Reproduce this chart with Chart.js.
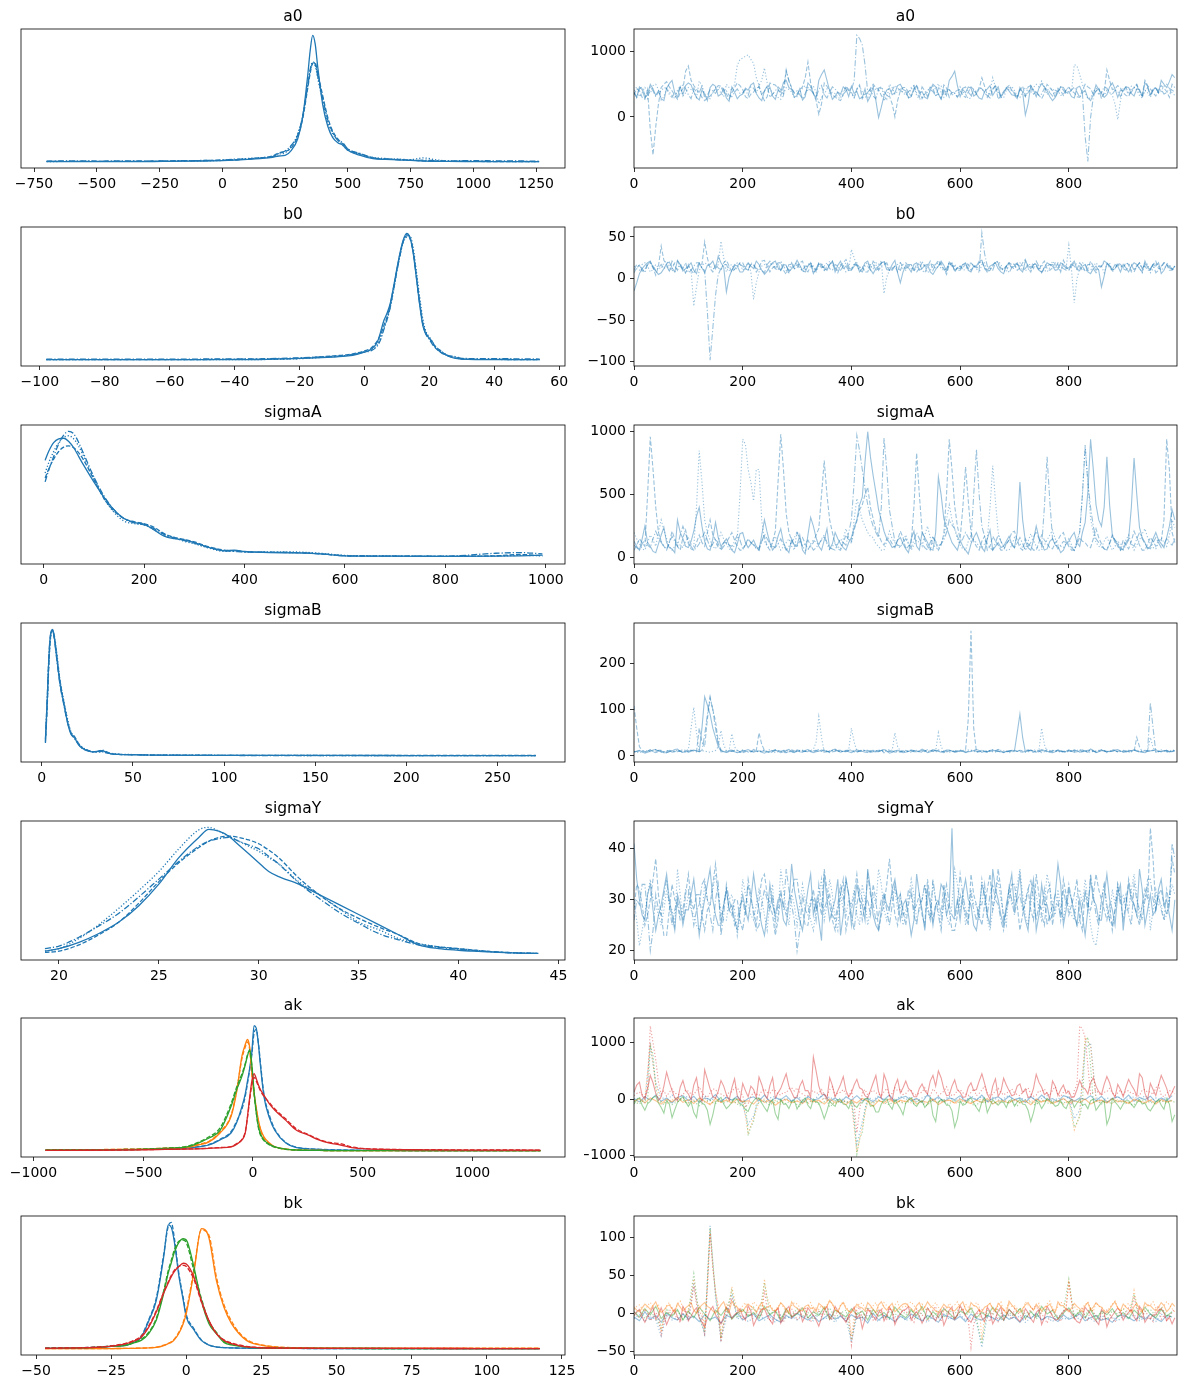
<!DOCTYPE html>
<html>
<head>
<meta charset="utf-8">
<script src="https://cdn.jsdelivr.net/npm/chart.js@4.4.1/dist/chart.umd.min.js"></script>
<style>
  body { margin: 0; background: #fff; width: 1187px; height: 1389px; position: relative; overflow: hidden; }
  canvas { position: absolute; }
</style>
</head>
<body>
<script>
// Trace arrays are thinned draws over 0..999 (200 values = every 5th draw, 100 values = every 10th)

// ---- a0 ----
const a0Grid = [-700,-600,-500,-400,-300,-200,-100,0,50,100,150,200,225,250,275,300,320,340,350,360,370,380,400,420,440,460,480,500,550,600,650,700,750,800,850,900,1000,1100,1262];
const a0Kde1 = [0,0,0,0,0,0.3,0.5,0.8,1.2,1.8,2.5,3.5,4.5,5,9,18,35,68,88,100,93,75,45,28,19,15,13,9,5,2.5,1.8,1.5,1,0.5,0.3,0.2,0.1,0,0];
const a0Kde2 = [0.2,0.3,0.3,0.3,0.4,0.5,0.8,1.2,1.5,2.2,3,4.5,7,8,11,20,34,58,70,78,78,70,52,35,24,18,14,10,6,3,2,1.8,1.2,0.6,0.5,0.3,0.2,0.1,0];
const a0Kde3 = [0.1,0.2,0.2,0.3,0.3,0.4,0.6,1,1.5,2.5,3.2,4,6,7,12,22,36,60,72,77,76,66,48,31,22,17,13,9,6,3.5,2.5,2,1.6,3,1.5,0.6,0.3,0.2,0.1];
const a0Kde4 = [0.5,0.7,0.5,0.6,0.5,0.7,0.9,1.3,2,2.2,3,4,6.5,8.5,13,21,36,60,73,79,77,68,50,33,23,17,15,10,6.5,3,2.2,1.5,1,1.2,0.8,0.6,0.9,0.6,0.5];
const a0Tr1 = [380,300,460,420,290,350,500,430,330,400, 280,250,440,510,560,370,300,460,340,480, 520,490,380,300,260,410,360,250,450,500, 470,320,350,430,290,240,460,380,280,330,
  350,440,410,490,520,360,290,250,400,470, 460,320,270,410,380,530,560,450,420,300, 330,430,260,310,520,470,360,280,560,650, 720,560,400,270,320,380,350,460,430,310,
  470,360,390,280,300,430,240,320,460,250, -10,150,330,410,440,340,370,480,500,420, 400,290,310,440,470,360,390,300,280,410, 500,460,350,270,420,330,560,620,700,480,
  310,420,370,460,440,320,350,290,270,390, 430,480,330,400,460,300,370,440,400,340, 330,280,450,380,30,200,480,410,310,440, 510,460,400,310,250,300,380,460,450,370,
  390,310,290,450,470,370,410,290,250,340, 490,420,360,300,340,460,520,430,300,410, 400,460,450,360,320,430,420,320,520,470, 340,420,440,370,560,500,450,540,650,600];
const a0Tr2 = [340,430,400,300,270,420,-200,-580,-150,200, 450,500,540,460,400,330,270,370,430,700, 780,560,480,420,380,300,250,290,320,370, 430,480,470,420,350,280,370,450,520,480,
  420,310,280,350,380,440,460,340,250,310, 520,500,490,430,330,450,700,560,450,360, 350,420,460,600,840,520,360,250,40,200, 520,470,400,330,310,270,250,340,470,420,
  380,290,430,490,280,350,360,440,500,450, 420,330,260,300,320,200,0,250,400,450, 450,370,320,410,480,400,280,350,380,450, 430,330,350,280,490,440,300,370,380,410,
  420,330,300,380,460,420,350,430,600,470, 330,290,430,480,270,330,390,450,480,410, 350,290,410,470,320,370,450,350,380,330, 280,360,500,450,400,300,440,400,330,410,
  450,400,370,310,300,410,500,460,430,350, 390,450,280,370,720,560,420,430,480,440, 370,330,310,410,450,500,400,330,560,480, 430,370,320,410,480,440,390,300,500,450];
const a0Tr3 = [400,460,310,370,450,400,360,480,500,420, 260,310,440,380,330,280,410,470,320,370, 450,420,390,300,550,480,340,300,280,370, 450,420,370,310,500,450,410,500,790,880,
  900,930,950,880,820,600,480,560,750,520, 420,370,330,300,270,350,450,420,380,300, 310,380,440,480,390,450,470,380,200,300, 340,430,420,370,360,300,280,410,460,400,
  360,290,420,470,380,310,290,390,470,420, 400,460,320,270,500,450,350,390,440,370, 370,300,450,480,330,270,290,370,400,460, 470,420,510,370,300,380,410,330,370,300,
  460,380,350,280,290,420,390,440,440,360, 330,390,600,450,370,300,290,410,420,470, 400,330,300,370,450,420,370,450,500,460, 550,450,340,410,440,370,400,330,350,420,
  460,390,800,780,650,500,370,280,290,390, 440,420,390,330,410,370,330,200,-40,250, 440,400,360,470,460,410,330,290,410,370, 300,410,450,370,390,470,500,420,370,330];
const a0Tr4 = [370,300,430,460,340,280,460,400,310,380, 400,450,440,340,300,370,360,460,490,430, 340,280,440,380,370,470,290,330,420,400, 360,440,460,380,400,330,310,380,430,360,
  370,420,330,460,440,370,480,350,390,470, 300,350,400,460,420,330,720,550,430,370, 400,340,280,360,450,410,360,300,420,480, 340,290,380,460,430,370,310,340,400,440,
  420,550,1250,1200,1100,800,380,420,320,280, 440,460,390,330,350,410,480,440,410,370, 330,390,420,480,370,300,460,400,310,420, 390,320,440,470,350,410,420,370,360,300,
  380,440,460,380,330,410,360,460,430,380, 300,370,410,480,390,330,350,440,450,400, 370,300,420,390,310,460,480,410,380,330, 350,440,440,370,320,410,390,460,410,350,
  370,410,460,380,300,360,-300,-680,-10,300, 420,350,370,460,440,370,350,410,390,310, 410,460,340,380,440,490,370,320,390,450, 320,410,460,370,420,350,370,440,410,380];

// ---- b0 ----
const b0Grid = [-98,-80,-60,-40,-30,-20,-15,-10,-5,-2,0,2,4,5,6,7,8,9,10,11,12,13,14,15,16,17,18,19,20,21,22,23,24,25,26,28,30,40,54];
const b0Kde1 = [0,0,0,0,0.3,1,1.5,2,3,4.5,6,8,14,22,31,37,45,58,72,85,95,100,97,85,65,44,27,20,17,14,9,7,5,4,2.5,1,0.5,0,0];
const b0Kde2 = [0,0,0,0.3,0.5,1,2,3,4,5.5,7,9,15,20,27,34,44,57,71,84,94,98,96,86,67,46,29,21,17,13,10,8,6,4,3,1.5,0.5,0.2,0];
const b0Kde3 = [0,0,0,0,0.2,0.8,1.5,2.5,3.5,5,6.5,8,12,18,25,32,42,55,70,83,93,97,98,89,70,50,32,22,18,14,10,8,6,4.5,3,2,0.8,0.2,0];
const b0Kde4 = [0.5,0.5,0.5,0.6,0.8,1.5,2,2.5,3.5,5,6,7,11,16,24,32,42,56,70,83,94,99,97,86,66,45,28,20,16,12,9,7,5,4,3,2.5,1,0.8,0.5];
const b0Tr1 = [-15,-5,6,12,16,19,21,13,9,5, 7,12,18,20,13,8,22,17,9,12, 15,19,10,6,18,13,7,16,17,21, 12,27,19,14,-16,2,10,17,15,8,
  8,13,19,15,12,21,17,10,5,9, 15,19,21,13,10,17,16,8,12,15, 22,16,10,8,15,19,6,12,18,15, 13,10,17,21,8,16,21,12,15,10,
  10,15,17,8,12,19,21,11,6,12, 15,19,20,11,10,17,22,7,-5,8, 16,13,8,17,19,10,12,16,17,8, 5,11,15,21,16,9,20,17,10,13,
  12,17,19,10,8,15,15,21,22,13, 10,15,17,19,12,8,6,15,19,13, 15,19,11,8,21,16,12,17,17,10, 8,13,19,17,15,10,11,19,17,12,
  13,17,21,11,10,15,17,8,6,12, 15,10,-10,3,19,16,11,17,15,8, 17,13,8,15,19,17,12,8,21,13, 11,17,15,19,6,10,17,13,11,15];
const b0Tr2 = [7,13,16,9,11,17,20,13,4,15, 39,22,17,10,12,19,21,15,11,7, 15,10,6,13,19,17,44,25,12,8, 17,13,10,19,22,15,8,11,15,19,
  19,12,10,17,17,8,13,21,22,15, 8,13,15,19,19,10,5,17,17,12, 13,19,21,11,8,15,15,10,19,17, 10,12,17,21,13,7,15,19,23,15,
  11,17,19,13,15,8,8,17,17,10, 12,19,21,15,10,12,15,8,19,15, 12,17,17,10,8,12,19,15,15,21, 10,17,22,15,12,5,17,19,8,13,
  15,12,19,17,10,15,13,19,21,12, 8,10,15,21,19,13,10,15,19,17, 17,10,13,19,23,13,8,17,15,10, 17,21,12,10,13,19,17,8,22,15,
  10,17,15,11,19,15,8,12,21,15, 10,15,15,21,19,13,10,12,19,17, 13,19,17,8,8,15,19,12,15,10, 10,17,21,12,13,19,17,10,10,15];
const b0Tr3 = [15,12,10,17,19,15,8,11,17,13, 12,19,21,15,10,8,13,17,15,6, 17,10,-33,-10,10,15,19,17,15,12, 12,17,45,25,8,15,17,10,13,19,
  10,15,19,8,-25,-5,8,15,17,13, 17,19,12,10,21,15,10,7,15,17, 19,15,8,10,17,19,13,8,15,19, 10,15,21,17,12,10,17,15,8,10,
  35,25,15,10,11,17,19,15,12,19, 17,21,-18,2,10,13,15,17,19,12, 10,15,17,10,12,19,21,15,7,10, 15,17,19,12,10,8,19,15,17,13,
  15,10,11,17,19,15,12,7,17,19, 7,12,15,19,21,17,10,8,17,13, 12,17,19,15,10,10,15,19,17,12, 17,10,8,13,21,17,12,10,15,13,
  40,10,-29,0,12,19,17,10,10,15, 19,15,15,7,17,19,8,12,17,15, 15,17,19,10,11,15,13,7,19,17, 7,12,19,15,10,13,15,17,10,15];
const b0Tr4 = [10,17,15,12,7,17,19,15,10,13, 17,12,15,9,21,15,10,17,12,19, 7,10,15,19,19,12,10,-40,-98,-60, -20,5,12,17,17,10,10,15,19,17,
  15,12,10,19,17,12,12,10,7,17, 21,15,12,17,10,15,15,10,19,12, 17,12,10,15,15,19,7,10,17,13, 15,19,12,10,17,15,10,15,19,12,
  12,17,17,10,8,15,15,10,21,17, 10,15,17,19,12,10,15,13,10,17, 19,15,12,10,17,19,10,7,15,17, 17,12,15,19,10,12,19,15,15,10,
  10,17,17,12,19,15,15,10,55,30, 15,12,10,19,17,10,12,15,7,13, 19,17,15,10,12,17,17,12,21,15, 7,12,15,17,17,12,19,15,12,10,
  10,15,19,17,15,10,12,17,17,12, 7,12,15,19,19,15,10,12,17,15, 12,10,15,17,10,15,19,12,17,15, 12,17,7,10,15,19,19,15,12,10];

// ---- sigmaA ----
const sAGrid = [3,10,20,30,40,50,60,70,80,100,120,140,160,180,200,220,240,260,280,300,330,360,380,400,450,500,550,600,650,700,800,900,950,993];
const sAKde1 = [77,84,91,94,94.5,92,87,80,73,60,48,38,31,28,26.5,22,17,15,14,12,8,5.5,6,5,4,3.8,3,1.5,1.2,1.2,1,1.2,1.5,2];
const sAKde2 = [63,70,78,84,87.5,88.5,87,83,77,62,47,37,31,28.5,27,24,19,16,14.5,12.5,8.5,6,5.5,4.8,4.2,4,3,1.6,1.3,1.2,1.1,1.5,2.5,1.5];
const sAKde3 = [67,75,84,91,95,96.5,94,88,80,63,47,36,29,27,26,22,18,16,13,11,7.5,5,5.5,4.5,4.5,4.5,3.5,1.8,1.5,1.3,1.2,1.3,1.8,1.5];
const sAKde4 = [60,69,80,90,97,100,98,91,82,64,49,38,31,27.5,26,23,18.5,15.5,13.5,11.5,8,5.5,5,4.5,4.3,4,3.2,1.5,1.3,1.2,1.2,3.5,4,3];
const sATr1 = [130,90,60,150,250,120,90,50,40,110, 180,240,120,80,70,40,300,200,150,90, 80,130,210,330,400,250,130,70,60,150, 280,160,90,120,150,100,60,40,110,190,
  200,120,80,110,140,90,60,180,300,200, 120,60,90,170,230,120,70,40,150,100, 100,180,60,30,180,320,250,160,90,60, 140,230,70,110,200,150,110,80,60,120,
  160,240,300,420,480,760,1000,800,650,520, 380,300,210,150,120,80,90,140,160,110, 70,40,150,210,90,60,200,160,120,70, 60,200,640,500,310,240,180,120,90,60,
  140,90,60,30,110,160,200,140,80,50, 150,220,60,90,120,80,90,130,170,110, 80,200,600,300,130,80,60,140,250,160, 110,60,70,130,150,100,90,40,60,110,
  130,170,200,120,90,200,280,520,940,700, 420,300,250,400,800,420,180,120,110,60, 70,120,150,400,790,500,240,160,120,70, 90,150,200,140,110,80,160,250,380,300];
const sATr2 = [60,100,150,120,90,500,960,700,400,200, 130,90,70,120,210,150,90,60,160,220, 110,70,60,120,180,120,90,200,300,180, 140,80,70,120,120,160,200,140,90,60,
  60,110,150,120,110,70,80,130,170,90, 60,130,210,600,980,700,350,200,140,90, 90,130,160,110,70,90,120,180,230,500, 770,500,300,200,110,70,60,120,180,140,
  130,220,290,380,420,500,560,400,310,220, 180,130,100,150,150,110,80,140,210,160, 70,90,120,400,830,500,210,140,90,60, 160,120,60,100,190,500,940,700,410,250,
  150,400,720,450,200,130,90,60,130,170, 60,90,170,130,100,60,60,110,140,200, 210,140,80,60,150,110,90,60,60,120, 180,140,110,80,70,120,140,180,200,130,
  90,60,60,110,160,130,120,90,80,150, 230,160,110,70,60,120,180,140,90,60, 140,100,70,130,210,160,100,60,60,110, 160,130,90,140,130,300,940,700,200,120];
const sATr3 = [200,150,110,70,60,120,180,140,90,200, 300,220,150,90,60,90,120,100,80,130, 160,110,90,400,850,600,300,200,140,90, 70,130,200,150,110,70,60,100,150,500,
  940,900,700,600,450,700,700,300,130,90, 80,120,170,110,60,90,120,150,90,60, 210,150,90,60,60,110,140,120,100,150, 180,110,60,90,120,90,70,150,230,160,
  110,300,470,380,300,250,200,170,160,110, 90,60,60,130,210,150,120,90,80,130, 180,110,60,100,140,120,90,180,250,160, 110,80,70,120,160,300,420,300,230,150,
  100,70,60,130,180,140,120,90,80,110, 150,400,730,450,200,130,90,60,60,100, 160,120,110,80,70,130,190,140,90,60, 60,100,140,180,220,150,100,90,80,110,
  150,100,60,130,210,500,900,600,310,200, 120,90,80,130,170,110,60,90,130,110, 90,140,180,110,60,100,140,190,230,160, 110,80,70,120,160,120,90,180,300,240];
const sATr4 = [100,80,60,110,140,100,80,150,210,160, 120,90,60,120,170,130,90,180,250,190, 130,90,60,80,110,160,200,140,80,110, 150,110,60,90,120,100,90,130,180,140,
  70,100,140,120,100,70,60,130,190,150, 110,90,80,110,150,100,60,90,120,160, 200,150,90,110,140,100,60,80,110,140, 170,120,80,70,60,110,150,120,100,200,
  300,600,970,850,700,550,420,320,250,200, 160,400,950,700,380,250,130,100,90,120, 150,110,80,140,200,150,110,80,60,120, 170,130,90,110,140,200,300,260,230,170,
  120,150,200,160,130,500,860,500,250,170, 110,80,60,120,180,130,90,110,140,100, 80,120,160,110,60,90,120,160,210,150, 90,400,800,450,150,110,70,100,130,120,
  110,80,60,130,200,500,880,600,400,250, 150,120,90,70,60,110,170,140,120,80, 60,100,140,110,90,150,200,150,110,80, 70,120,160,120,80,110,150,120,100,150];

// ---- sigmaB ----
const sBGrid = [2,3,4,5,6,7,8,10,12,14,16,18,20,22,25,28,31,33,35,38,42,50,60,80,100,130,160,200,240,271];
const sBKde1 = [12,45,80,98,100,92,80,57,42,27,17,14,9,6,4,3,3.5,4,3,1.5,1,0.8,0.5,0.3,0.3,0.2,0.2,0.1,0,0];
const sBKde2 = [10,40,76,96,99,93,82,59,43,28,18,15,10,6.5,4.5,3,3,3.5,2.5,1.5,1,0.8,0.5,0.4,0.3,0.3,0.3,0.3,0.3,0.3];
const sBKde3 = [11,42,78,95,98,94,84,60,44,30,19,15,10,7,4.5,3.2,3,3,2.5,1.8,1.2,0.9,0.6,0.4,0.3,0.2,0.1,0,0,0];
const sBKde4 = [13,46,82,97,99,91,79,56,41,27,18,13.5,9.5,6,4,3,3.5,4.5,3.5,1.5,1,0.7,0.5,0.3,0.2,0.1,0.1,0,0,0];
const sBTr1 = [8,10,12,9,6,8,10,13,14,11, 9,7,7,10,11,14,15,10,8,9, 10,12,13,11,9,60,128,110,90,60, 40,20,12,9,8,10,11,9,7,8,
  9,12,14,11,8,10,11,8,6,9, 10,12,13,10,7,9,12,14,9,7, 11,9,8,12,14,11,7,9,10,13, 12,10,9,13,15,11,8,10,11,9,
  7,10,13,11,10,8,8,11,12,9, 9,12,14,11,6,8,11,12,10,7, 8,10,12,9,9,11,15,12,7,9, 11,12,10,8,10,13,13,10,8,9,
  12,10,7,9,10,12,14,12,8,10, 9,12,13,11,10,9,8,10,10,12, 11,50,90,40,9,11,12,10,8,11, 14,12,10,8,7,9,12,11,9,10,
  13,10,8,9,11,13,10,8,15,12, 7,9,12,11,9,10,11,13,14,11, 8,9,10,12,13,10,9,8,7,10, 11,12,14,10,9,11,12,9,9,12];
const sBTr2 = [108,60,20,12,9,11,13,9,7,10, 11,8,10,12,8,9,12,10,9,11, 14,12,11,9,60,30,20,80,125,100, 75,30,13,10,8,9,10,12,12,9,
  7,9,11,10,9,12,50,25,12,9, 8,10,14,12,10,8,7,10,11,9, 13,11,9,10,12,9,8,11,11,10, 14,11,7,9,10,12,12,9,9,11,
  11,9,8,11,13,12,10,8,9,11, 12,14,7,9,10,12,8,9,8,10, 12,10,9,11,11,9,8,10,14,12, 10,8,13,11,7,9,11,12,9,10,
  10,12,13,80,270,60,9,10,12,9, 8,10,11,12,14,11,7,9,10,11, 12,10,9,8,11,13,10,8,12,11, 7,9,14,12,9,10,13,11,9,7,
  11,10,13,11,8,9,10,12,12,10, 9,11,14,12,7,9,11,10,10,12, 9,10,12,11,10,40,20,9,8,11, 11,12,13,10,9,11,12,10,10,11];
const sBTr3 = [10,8,7,9,12,11,9,10,14,11, 8,9,11,12,10,9,13,10,7,9, 12,60,105,50,9,11,11,9,8,10, 12,20,55,25,10,12,48,20,11,9,
  13,10,8,9,11,10,9,12,12,10, 14,11,7,9,10,12,13,10,8,9, 9,11,12,10,10,12,14,30,85,40, 8,10,11,12,13,11,9,10,10,12,
  60,30,11,10,13,11,8,9,10,11, 12,10,9,11,14,12,50,20,11,9, 10,9,8,11,12,10,9,12,11,10, 13,11,50,20,10,9,8,10,12,11,
  9,10,11,13,13,10,8,9,12,11, 10,12,9,8,14,12,11,10,7,9, 10,11,12,10,8,9,11,13,13,11, 60,25,9,10,12,11,10,9,8,10,
  12,10,9,12,14,11,10,9,8,10, 11,12,13,10,9,11,10,12,8,10, 11,9,8,10,12,14,9,10,11,12, 40,18,10,9,13,11,8,10,11,12];
const sBTr4 = [9,10,11,9,8,10,13,11,10,12, 12,9,7,9,11,10,9,11,14,12, 8,10,12,11,10,12,45,90,128,100, 60,25,9,10,11,12,13,10,8,9,
  12,11,10,9,14,11,9,10,11,8, 7,9,12,11,10,12,8,9,13,11, 10,12,12,10,9,11,11,12,14,10, 8,9,10,12,13,11,9,10,12,12,
  14,11,9,10,11,12,12,10,8,9, 10,12,13,12,11,9,9,11,10,11, 9,11,13,12,10,9,12,11,8,10, 14,12,11,9,9,11,12,10,10,11,
  13,11,8,10,11,12,10,9,12,11, 9,12,14,11,10,9,8,10,11,12, 9,10,12,11,10,12,13,11,8,9, 12,11,10,9,11,13,9,10,10,11,
  10,11,12,10,9,10,11,12,13,11, 8,9,12,11,10,9,14,12,9,10, 12,11,10,9,13,11,8,10,12,11, 115,60,8,10,12,11,10,9,13,12];

// ---- sigmaY ----
const sYGrid = [19.3,20,21,22,23,24,25,26,27,27.5,28,28.5,29,29.5,30,30.5,31,32,33,34,35,36,37,38,39,40,41,42,43,44];
const sYKde1 = [2,4,9,16,25,38,55,76,92,98.4,97,93,86,79,72,65,61,55,47,39,31,23,15,7,4,2.7,1.8,1,0.5,0.2];
const sYKde2 = [1,2,7,15,25,40,57,72,84,89,92,93,92,90,87,82,76,60,47,36,28,21,15,8,5.5,4,2.5,1.3,0.6,0.2];
const sYKde3 = [2,4,12,23,36,50,65,83,98,100,97,93,89,85,81,76,71,57,47,36,25,19,12,8,5.5,4,2.5,1.3,0.6,0.2];
const sYKde4 = [4,6,13,22,32,45,59,73,85,89,91,92,89,86,83,77,71,56,44,33,24,16,11,7,5,3.5,2.2,1.2,0.5,0.2];
const sYTr1 = [41,34,30,27,26,31,33,28,24,27, 29,32,35,30,27,24,31,29,25,28, 28,31,34,29,23,27,30,33,36,30, 27,25,25,29,32,28,29,26,24,28,
  31,28,26,30,35,31,28,25,23,27, 33,29,27,30,30,26,25,29,37,32, 29,26,24,28,32,35,27,30,26,22, 35,30,26,28,30,34,23,27,34,31,
  25,29,33,30,29,26,36,32,27,25, 24,28,31,29,28,32,34,30,26,29, 30,27,23,26,35,31,28,24,32,29, 25,29,29,33,32,27,29,44,27,30,
  26,31,34,30,29,25,24,28,33,31, 27,25,36,32,30,27,25,29,32,35, 28,31,35,29,26,24,31,34,24,27, 33,29,29,26,27,31,37,33,25,28,
  32,30,27,25,30,27,23,28,34,30, 29,26,26,31,35,30,28,25,31,33, 24,29,33,30,29,27,36,32,25,28, 31,27,28,32,34,29,30,27,24,30];
const sYTr2 = [28,33,32,29,25,27,30,34,38,31, 27,23,23,28,33,30,29,26,26,31, 35,30,28,31,31,27,24,28,29,33, 37,31,26,29,32,28,27,30,30,26,
  24,28,33,30,28,25,30,34,35,31, 29,27,23,26,31,29,27,30,31,34, 34,30,28,25,25,29,32,28,30,27, 36,32,29,26,24,28,31,34,24,27,
  28,31,35,30,26,29,30,27,33,30, 24,27,29,33,38,32,27,25,31,28, 25,29,32,28,29,31,27,25,34,30, 26,29,30,27,33,30,28,24,24,27,
  31,29,27,25,35,31,29,27,25,29, 32,35,28,31,36,32,26,28,30,33, 33,29,24,27,30,32,28,26,35,31, 27,25,31,33,25,29,29,27,34,31,
  27,29,31,34,26,24,32,29,28,31, 35,32,30,28,26,29,24,28,33,30, 26,29,34,31,29,27,25,29,32,30, 44,38,28,31,32,29,27,30,38,35];
const sYTr3 = [30,26,21,24,27,31,34,30,29,27, 25,28,32,29,28,25,36,31,26,28, 31,28,27,25,24,27,33,30,29,32, 35,31,28,26,26,30,31,28,23,27,
  34,31,29,27,26,29,32,30,27,24, 30,33,24,27,36,32,28,25,31,29, 25,29,33,30,29,26,24,28,31,34, 26,29,34,31,26,24,31,28,27,30,
  29,32,27,25,33,30,25,28,31,29, 36,33,28,26,29,31,32,28,29,25, 27,30,34,31,26,28,30,33,28,26, 33,30,28,25,30,27,25,29,36,33,
  28,31,25,28,32,29,29,26,34,31, 26,24,28,31,34,30,27,25,33,29, 30,33,36,31,27,25,29,33,31,28, 26,29,35,32,29,27,32,28,26,30,
  29,27,26,31,32,29,34,30,25,22, 21,25,30,33,28,26,32,29,33,30, 31,28,28,32,35,31,26,29,30,33, 24,28,32,29,29,26,27,30,33,31];
const sYTr4 = [26,30,29,33,33,27,20,24,31,28, 27,31,34,29,25,28,30,27,28,32, 32,29,25,28,29,33,34,30,27,24, 30,33,23,27,33,30,28,25,26,29,
  30,27,34,31,27,24,25,29,32,30, 28,31,26,29,32,28,36,32,29,26, 20,24,31,28,27,30,30,26,33,29, 28,30,31,27,26,29,33,30,34,31,
  27,24,29,32,30,28,35,31,29,26, 27,30,31,28,25,29,33,30,31,27, 28,32,31,27,25,29,30,33,29,26, 34,30,27,24,30,33,29,27,26,29,
  35,31,28,26,31,28,26,29,29,33, 27,31,33,30,29,26,24,28,32,30, 27,30,31,28,29,32,34,30,26,29, 28,32,25,27,29,31,30,26,32,29,
  33,30,28,25,26,29,31,28,35,31, 27,25,30,33,29,26,25,28,32,29, 29,31,27,25,33,30,28,26,30,34, 34,30,28,31,28,26,32,29,41,38];

// ---- ak (4 components, two chains each) ----
const akGrid = [-945,-800,-600,-500,-400,-300,-250,-200,-150,-100,-75,-50,-35,-25,-15,-5,5,15,25,35,50,75,100,150,200,250,300,350,400,450,500,600,800,1000,1310];
const akKdeBlueA = [0.3,0.5,0.8,1,1.5,2,3,4.5,8.5,14,22,35,45,55,65,78,99,97,84,66,43,26,16,6,2.4,1.5,1,0.7,0.5,0.4,0.3,0.2,0.1,0,0];
const akKdeBlueB = [0.5,0.6,0.9,1.1,1.6,2.2,3.2,5,9,15,23,33,43,53,64,76,93,96,85,68,45,28,17,6.5,2.6,1.6,1.1,0.8,0.6,0.4,0.3,0.2,0.1,0.1,0];
const akKdeOrangeA = [0.5,0.6,1,1.2,1.8,2.7,4.5,7,14,27,46,75,84,88,82,62,46,34,24,17,11,6,3,1.3,0.6,0.3,0.2,0.1,0,0,0,0,0,0,0];
const akKdeOrangeB = [0.6,0.7,1.1,1.4,2,3,5,7.5,15,28,47,73,82,86,80,60,45,33,23,16,10,5.5,2.8,1.2,0.5,0.3,0.2,0.1,0,0,0,0,0,0,0];
const akKdeGreenA = [0.5,0.6,0.8,1,1.8,3,6,10,16,35,48,59,68,75,80,68,47,30,19,13,8.5,5,3,1.2,0.5,0.3,0.2,0.1,0,0,0,0,0,0,0];
const akKdeGreenB = [0.6,0.7,0.9,1.2,2,3.5,6.5,11,18,37,50,61,69,76,79,67,46,30,18,12,8,4.5,2.8,1.1,0.5,0.3,0.2,0.1,0,0,0,0,0,0,0];
const akKdeRedA = [0.2,0.3,0.5,0.7,1,1.3,1.5,1.8,2.3,3,5,8.5,14,27,42,55,61,57,52,48,44,37,32,24,16,12.5,8.5,6,4.5,2.4,1.6,1,0.7,0.5,0.5];
const akKdeRedB = [0.3,0.4,0.6,0.8,1.1,1.4,1.6,2,2.5,3.2,5.5,9,15,26,40,52,58,55,51,47,43,38,33,25,17,13,9,6.5,5.5,3,1.8,1.1,0.8,0.6,0.5];
const akTrBlueA = [10,-50,40,-20,70,-40,20,-70,30,60, -30,50,-60,20,-10,80,-40,30,-20,50, -60,10,40,-30,70,-50,20,-10,60,-40, 30,-70,50,-20,10,90,-40,20,-60,40, -20,60,-30,10,-50,40,-10,70,-40,20, 50,-30,10,-60,80,-20,40,-50,20,-10, 60,-40,30,-20,70,-50,10,40,-30,50, -10,20,-60,40,-30,70,-20,10,-50,60, 30,-40,20,-10,60,-30,50,-60,10,40, -20,70,-40,30,-10,50,-50,20,-30,60];
const akTrBlueB = [-20,30,-60,950,300,40,-30,70,-10,20, 50,-40,10,60,-30,20,-50,40,-20,10, -120,-450,-300,30,-60,20,50,-30,10,-40, 60,-20,30,-50,80,-10,40,-30,20,-60, -30,-800,-400,40,-20,60,-40,10,-30,50, -10,40,-50,20,60,-30,10,-20,50,-40, 20,-30,60,-10,40,-50,30,-20,10,70, -40,20,-10,50,-30,10,60,-50,20,-20, 40,-350,-200,900,1000,30,-40,20,-10,50, -30,10,40,-20,60,-40,20,-10,30,-50];
const akTrOrangeA = [-40,10,-70,20,-30,-90,0,-50,30,-60, -10,-80,20,-40,-100,10,-60,-20,-70,0, -50,-30,-90,10,-60,-20,-110,-40,0,-70, -30,-80,10,-50,-20,-90,0,-60,-30,-100, -20,-70,10,-40,-130,-30,-60,0,-80,-20, -50,10,-90,-30,-60,0,-100,-40,-20,-70, 0,-50,-80,-20,-60,10,-90,-30,-40,-70, -10,-60,-30,-100,0,-50,-20,-80,-40,10, -70,-30,-60,0,-90,-40,-20,-70,10,-50, -30,-80,0,-40,-60,-20,-90,-10,-50,-30];
const akTrOrangeB = [-30,-60,0,1000,250,-40,-80,-10,-50,20, -70,-20,-50,10,-90,-30,-60,0,-40,-80, -20,-600,-350,-50,0,-70,-30,-90,-10,-60, -40,-10,-80,-30,-60,20,-50,-90,-20,-40, -70,-950,-500,-30,-60,-10,-80,-40,-20,-60, -30,-70,0,-50,-90,-20,-60,-40,-10,-80, -50,-20,-70,-30,0,-60,-40,-90,-20,-50, -10,-70,-40,-20,-80,-50,0,-60,-30,-90, -40,-550,-300,1100,950,-20,-60,-30,-80,-10, -50,-70,-20,-40,-90,0,-60,-30,-50,-20];
const akTrGreenA = [-90,-10,20,-110,-200,-80,-40,30,50,-70, -150,-250,-30,-90,-330,-190,-60,0,40,-50, -130,-50,-240,-330,-10,-70,-100,-200,-450,-280, -50,-10,30,-90,-170,-120,-60,10,-10,-90,
  -110,-190,-220,-100,-30,20,10,-70,-150,-220, -70,-10,-260,-360,-10,-90,-90,-170,-50,-20, -180,-90,-30,20,-110,-170,0,-50,-70,-200, -350,-210,-40,-90,-130,-10,-10,-90,-100,-170,
  -30,-110,-150,-70,-70,10,10,-130,-110,-230, -230,-90,-20,0,-110,-180,-10,-90,-170,-280, -70,-10,20,-90,-130,-50,-30,-150,-90,10, -290,-400,-50,-10,-20,-110,-110,-210,-500,-350,
  -30,-110,-90,-10,20,-70,-150,-220,-50,20, -240,-130,-10,-70,-110,-50,-60,-150,-30,-10, -130,-50,-10,-90,-100,-200,-400,-240,-30,-60, -170,-90,10,-30,-70,-130,-110,-30,-130,-170,
  -50,-10,-150,-70,-10,-110,-90,-170,-30,0, -200,-130,-60,-30,-450,-320,10,-50,-110,-180, -90,-30,-30,-90,-150,-70,-10,-90,-70,-170, -210,-130,-50,-10,-110,-180,10,-90,-400,-280];
const akTrGreenB = [-40,-70,-90,-50,-20,-60,950,800,200,-30, -60,-100,-30,-50,-100,-70,-50,-20,-10,-60, -70,-40,-30,-80,-120,-90,-50,-30,-20,-60, -80,-40,-40,-70,-60,-20,-10,-50,-90,-120,
  -50,-30,-650,-500,-400,-100,-70,-40,-30,-80, -110,-70,-60,-30,-20,-70,-80,-50,-40,-60, -100,-140,-30,-50,-60,-40,-20,-70,-90,-60, -50,-20,-140,-100,-30,-50,-70,-40,-40,-80,
  -60,-300,-980,-700,-600,-200,-40,-60,-80,-50, -20,-40,-60,-90,-100,-60,-30,-20,-50,-70, -80,-50,-40,-80,-20,-30,-70,-110,-110,-50, -30,-60,-60,-20,-50,-90,-90,-40,-20,-60,
  -40,-80,-70,-30,-30,-120,-120,-50,-50,-80, -20,-40,-80,-60,-60,-30,-40,-70,-60,-30, -90,-120,-50,-30,-20,-70,-40,-100,-100,-50, -30,-20,-60,-90,-60,-40,-20,-60,-80,-40,
  -50,-200,-500,-420,-300,-100,1000,1100,600,-60, -30,-50,-90,-60,-40,-70,-70,-30,-20,-60, -30,-80,-60,-100,-100,-50,-40,-20,-20,-50, -50,-80,-70,-30,-20,-60,-80,-40,-30,-60];
const akTrRedA = [120,250,300,60,0,180,420,290,100,-20, 40,230,480,300,150,20,-30,210,330,150, 90,-10,250,380,60,-40,520,350,180,40, 20,140,330,230,80,-20,200,360,60,-30,
  280,150,40,230,170,30,390,260,90,10, 240,380,20,110,190,320,450,230,120,20, 40,230,330,150,150,30,750,500,230,90, 80,0,380,240,40,150,260,400,150,40,
  110,250,350,200,170,60,20,150,290,420, 130,20,440,300,60,-20,230,350,110,200, 320,190,140,40,40,190,270,150,90,320, 420,230,500,380,180,60,70,230,340,160,
  120,30,40,210,290,150,170,320,450,280, 90,0,230,360,50,130,370,250,150,60, 80,230,270,110,180,30,40,190,440,300, 210,80,110,10,320,230,60,170,250,100,
  140,30,40,170,330,210,180,90,290,380, 230,130,80,260,400,290,120,30,260,170, 40,210,350,250,170,60,450,380,100,-10, 280,170,60,250,420,310,190,30,120,230];
const akTrRedB = [60,100,120,80,40,200,1300,1000,700,300, 90,150,50,120,180,100,100,60,70,160, 140,90,80,150,220,110,60,30,110,180, 170,100,90,60,50,120,130,200,200,120,
  70,-150,-80,50,120,90,60,140,180,120, 100,160,150,90,70,120,110,180,200,140, 200,120,90,60,60,130,150,100,110,170, 80,50,170,220,60,110,120,170,90,50,
  150,-100,-600,-200,110,170,70,120,160,110, 90,60,130,190,60,100,200,150,170,80, 100,150,150,80,70,110,120,200,90,60, 180,130,60,100,140,220,110,60,80,150,
  170,110,90,60,120,180,60,100,160,230, 100,60,80,150,190,120,70,110,130,180, 110,80,60,120,150,200,90,50,70,150, 130,180,100,60,160,220,80,40,120,170,
  120,-100,150,260,1300,1250,1100,600,90,130, 160,100,70,120,130,190,110,60,110,160, 80,140,150,100,100,50,60,160,170,120, 130,80,200,250,70,40,100,150,140,90];

// ---- bk (4 components, two chains each) ----
const bkGrid = [-47,-30,-25,-20,-17.5,-15,-12.5,-10,-7.5,-6,-5,-4,-2.5,-1,0,2.5,5,7.5,10,12.5,15,17.5,20,22.5,25,30,35,50,75,100,117.6];
const bkKdeBlueA = [0.3,1,1.8,2.7,5,9,22,38,73,98,96,85,58,38,25,15,6.6,2.8,1.3,0.8,0.6,0.5,0.4,0.3,0.3,0.3,0.2,0.1,0,0,0];
const bkKdeBlueB = [0.5,1.2,2,3,5.5,10,23,40,75,97,100,88,60,40,27,16,7,3,1.5,0.9,0.6,0.5,0.4,0.3,0.3,0.3,0.2,0.1,0.1,0.1,0.1];
const bkKdeOrangeA = [0,0,0.1,0.2,0.3,0.4,0.6,1,2.5,4,5,7,12,20,28,60,95,88,54,33,20,12,6.6,4,2.7,1.3,0.8,0.4,0.3,0.3,0.3];
const bkKdeOrangeB = [0,0,0.1,0.2,0.3,0.5,0.7,1.2,2.8,4.2,5.5,7.5,13,21,30,62,94,90,57,35,22,13,7.5,4.5,3,1.5,0.9,0.5,0.4,0.4,0.5];
const bkKdeGreenA = [0.2,1,1.8,2.7,4.5,6.6,12,22.5,44,60,68,76,84,87,86,65,38,20,12,5,3,2,1.3,0.8,0.6,0.4,0.3,0.2,0.1,0,0];
const bkKdeGreenB = [0.3,1.1,2,3,5,7.5,13,24,46,62,70,78,85,86,84,62,40,22,13,6,3.5,2.2,1.5,1,0.7,0.5,0.3,0.2,0.1,0.1,0];
const bkKdeRedA = [0.3,1,2,4,6,9,17,29,44,52,57,61,65,67.6,67,57,38,22.5,12,6.6,4,2.5,1.5,1,0.7,0.5,0.4,0.3,0.2,0.1,0];
const bkKdeRedB = [0.4,1.2,2.2,4.3,6.5,10,18,30,45,53,58,62,65,66,65,55,37,22,12,7,4.5,3,1.8,1.2,0.8,0.6,0.4,0.3,0.2,0.1,0];
const bkTrBlueA = [-5,-10,2,-8,-3,-12,0,-6,-9,-1, -7,-4,-11,-2,-8,-5,-13,-3,-6,0, -9,-4,-1,-10,-6,-2,-8,-12,-3,-7, 0,-5,-9,-3,-11,-6,-1,-8,-4,-10, -2,-7,-5,-13,0,-9,-3,-6,-11,-4, -8,-1,-6,-10,-3,-7,-12,-2,-5,-9, -4,-11,-1,-7,-9,-3,-6,-10,-2,-8, -5,-12,-3,-7,0,-9,-4,-6,-11,-2, -8,-5,-1,-10,-6,-3,-9,-7,-12,-4, -2,-6,-10,-4,-8,-1,-7,-11,-3,-5];
const bkTrBlueB = [-7,-2,-11,-5,-8,-30,-3,-9,-6,-1, -10,40,-4,-28,115,20,-35,-6,25,-8, -3,-11,-6,-1,-9,-5,-12,-2,-7,-4, -9,-3,-6,-10,-1,-8,-5,-12,-3,-7, -38,-4,-9,-2,-6,-11,-3,-8,-5,-1, -10,-6,-3,-9,-12,-4,-7,-1,-8,-5, -2,-9,-6,-11,-45,-3,-8,-5,-10,-1, -7,-4,-12,-6,-2,-9,-5,-11,-3,-8, -6,-1,-9,-4,-7,-12,-3,-8,-5,-10, -4,-7,-2,-10,-5,-8,-11,-1,-6,-3];
const bkTrGreenA = [2,-5,6,-2,9,-7,1,-4,5,-9, 3,-6,8,-1,-10,4,-3,7,-8,0, 5,-4,1,-7,9,-2,3,-9,6,-5, -1,7,-6,2,-3,8,-8,4,0,-5, 6,-2,3,-9,5,-4,1,-7,8,-1, -6,4,-3,9,-8,2,-5,6,0,-7, 3,-1,7,-6,1,-4,8,-2,-9,5, -3,6,-7,2,-5,9,-1,4,-8,0, 7,-4,2,-6,5,-9,3,-2,6,-5, 1,-7,4,-3,8,-1,-6,5,-4,2];
const bkTrGreenB = [-3,4,-7,1,-5,-20,6,-2,3,-8, 2,52,-4,-25,112,25,-30,3,30,-6, 5,-2,8,-5,40,-1,4,-7,2,-3, 6,-4,1,-8,3,-2,7,-6,0,4, -35,2,-5,8,-1,4,-7,3,-3,6, -2,5,-8,1,7,-4,2,-6,4,-1, 8,-3,3,-7,-40,5,-2,6,-5,1, -4,7,-1,4,-8,2,6,-3,-6,3, 45,-6,4,-2,7,-5,1,-8,3,-1, 6,-3,25,-7,2,5,-4,8,-2,-5];
const bkTrOrangeA = [8,4,2,7,12,9,5,10,15,6, 1,4,9,11,6,2,13,8,3,7, 10,14,4,0,7,11,14,9,7,3, 0,5,11,15,5,1,16,10,8,3,
  2,8,12,9,6,1,9,14,5,8, 10,4,3,7,14,10,5,0,15,9, 7,3,4,9,11,6,8,2,13,10, 5,9,17,12,5,2,10,14,6,3,
  1,6,12,8,7,3,14,10,5,1, 11,15,8,4,9,13,2,5,9,12, 13,9,6,2,10,14,4,8,15,10, 7,3,1,6,12,8,8,4,3,7,
  11,15,5,1,14,10,9,4,2,8, 10,13,6,3,13,9,4,0,16,11, 7,3,1,6,11,14,8,4,12,7, 3,8,9,12,5,1,15,10,10,5,
  2,7,13,9,6,2,10,14,4,8, 14,10,8,3,1,5,11,15,7,3, 12,8,5,1,9,13,6,2,14,10, 10,6,3,8,14,10,2,6,13,9];
const bkTrOrangeB = [5,9,11,6,3,10,14,9,7,12, -25,-5,10,14,4,1,12,16,8,5, 2,20,45,15,9,4,-20,40,110,60, 30,10,-30,-5,13,9,35,18,6,2,
  10,14,3,7,15,11,7,3,45,20, 11,6,4,9,13,8,1,5,10,14, 12,8,6,2,9,14,3,7,5,10, 7,11,16,12,5,1,11,15,8,4,
  -30,-5,8,13,13,7,2,6,10,14, 5,1,14,10,7,3,11,15,4,9, 9,13,15,10,6,2,12,8,3,7, 10,14,8,4,1,6,13,9,11,15,
  7,3,12,8,4,9,14,10,-35,-5, 9,13,6,2,11,15,3,7,13,9, 10,6,5,1,15,11,8,4,9,13, 2,6,12,16,7,3,9,14,14,10,
  40,15,9,5,3,8,11,15,6,2, 14,9,8,4,2,7,12,16,7,3, 5,10,13,8,30,12,4,0,7,11, 11,15,7,3,6,10,15,11,6,2];
const bkTrRedA = [-3,2,5,-5,-12,-4,2,8,-8,-2, 7,-3,-15,-6,0,5,-5,-10,9,2, -10,-4,3,7,-6,-12,-18,-6,4,9, -2,-7,-14,-5,8,3,-7,-2,1,6,
  -4,-9,10,3,-16,-8,-1,5,6,-3, -9,-14,2,7,-13,-5,5,9,-6,-1, 0,5,-11,-4,7,2,-3,-9,-17,-6, 4,9,-8,-3,9,3,-2,-7,-12,-4,
  3,8,-7,-2,-20,-8,6,1,-4,-9, 1,5,-10,-3,8,2,-15,-6,-1,4, 5,9,-9,-2,2,-4,-13,-6,7,2, -5,-10,-1,3,-16,-7,4,8,-8,-2,
  10,4,-3,-8,-12,-4,0,5,-6,-11, 8,2,-14,-7,3,8,-9,-3,5,1, -2,-7,-11,-4,6,1,-7,-12,1,5, -15,-6,9,3,-4,-9,-8,-2,2,6,
  4,-1,-6,-11,-13,-5,8,3,-1,-6, -10,-15,5,1,-18,-8,-3,2,7,2, -9,-3,1,5,-5,-10,9,4,-12,-6, -7,-2,-2,4,6,1,-10,-5,-14,-6];
const bkTrRedB = [2,-3,-6,-1,5,0,-10,-5,1,-4, -28,-10,-3,3,7,-2,-8,-12,-1,4, -5,10,35,12,3,-4,-30,30,105,60, 28,5,-38,-15,-4,6,20,8,4,-2,
  -8,-3,1,-4,-3,2,6,-2,30,5, -11,-6,2,7,-7,-12,0,4,6,-1, -9,-5,3,8,-5,-12,0,5,2,-3, 6,-2,-4,-9,-3,3,2,-5,-10,-3,
  -42,-15,4,8,-6,-1,1,5,-9,-4, 5,-1,-3,-8,7,2,-11,-5,0,4, 3,-2,-7,-12,6,1,-2,-7,-10,-4, 4,9,-5,-11,8,2,-1,-6,-8,-3,
  2,6,-4,-9,-45,-15,-3,2,5,-1, -6,-11,1,6,-11,-5,6,1,-3,-8, 6,1,-2,-7,-8,-3,3,8,9,3, -1,-6,-13,-5,4,-1,-6,-11,1,6,
  42,15,-9,-4,1,6,-5,-10,6,1, -3,-8,-10,-4,4,-1,-7,-12,-3,2, -4,1,7,2,22,5,-1,-6,3,-2, -6,-11,5,10,-8,-3,-10,-4,1,6];

// ---- axis limits and tick labels ----
const varNames = ['a0', 'b0', 'sigmaA', 'sigmaB', 'sigmaY', 'ak', 'bk'];
const kdeRanges = [[-802, 1365], [-105.8, 61.8], [-45, 1038], [-11.4, 287], [18.1, 45.33], [-1057, 1422], [-55, 126]];
const kdeTicks = [
  [-750, -500, -250, 0, 250, 500, 750, 1000, 1250],
  [-100, -80, -60, -40, -20, 0, 20, 40, 60],
  [0, 200, 400, 600, 800, 1000],
  [0, 50, 100, 150, 200, 250],
  [20, 25, 30, 35, 40, 45],
  [-1000, -500, 0, 500, 1000],
  [-50, -25, 0, 25, 50, 75, 100, 125]
];
const traceRanges = [[-780, 1345], [-105, 62], [-50, 1053], [-13, 287], [18.2, 45.4], [-1031, 1442], [-55, 128]];
const traceTicks = [
  [0, 1000],
  [-100, -50, 0, 50],
  [0, 500, 1000],
  [0, 100, 200],
  [20, 30, 40],
  [-1000, 0, 1000],
  [-50, 0, 50, 100]
];
const drawTicks = [0, 200, 400, 600, 800];
const N_DRAWS = 1000;

// ---- styling / layout ----
const BLUE = '#1f77b4', ORANGE = '#ff7f0e', GREEN = '#2ca02c', RED = '#d62728';
const DASHES = [[], [4.5, 2], [1.2, 2], [6, 2, 1.2, 2]];
const ROW_TOP = [29, 227, 425, 623, 821, 1018, 1216];
const PLOT_H = 139;
const TITLE_H = 21;
const XAXIS_H = 30;

Chart.defaults.font.family = "'DejaVu Sans', sans-serif";
Chart.defaults.color = '#000';

Chart.register({
  id: 'frame',
  afterDraw(chart) {
    const { ctx, chartArea: a } = chart;
    ctx.save();
    ctx.strokeStyle = '#000';
    ctx.lineWidth = 0.8;
    ctx.strokeRect(a.left, a.top, a.right - a.left, a.bottom - a.top);
    ctx.restore();
  }
});

function fmt(v) {
  return v < 0 ? '\u2212' + Math.abs(v) : String(v);
}

function alpha(hex, a) {
  const n = parseInt(hex.slice(1), 16);
  return `rgba(${(n >> 16) & 255}, ${(n >> 8) & 255}, ${n & 255}, ${a})`;
}

function makeCanvas(left, top, w, h) {
  const c = document.createElement('canvas');
  c.width = w; c.height = h;
  c.style.left = left + 'px'; c.style.top = top + 'px';
  c.style.width = w + 'px'; c.style.height = h + 'px';
  document.body.appendChild(c);
  return c.getContext('2d');
}

function tickGrid() {
  return { display: true, drawOnChartArea: false, drawTicks: true, tickLength: 4, color: '#000', lineWidth: 0.8 };
}

function xAxis(range, ticks) {
  return {
    type: 'linear', min: range[0], max: range[1],
    afterBuildTicks: s => { s.ticks = ticks.map(v => ({ value: v })); },
    afterFit: s => { s.height = XAXIS_H; },
    grid: tickGrid(), border: { display: false },
    ticks: { padding: 4, font: { size: 14 }, autoSkip: false, maxRotation: 0, callback: v => fmt(v) }
  };
}

function yAxis(range, ticks) {
  return {
    type: 'linear', position: 'left', min: range[0], max: range[1],
    afterBuildTicks: s => { s.ticks = ticks.map(v => ({ value: v })); },
    afterFit: s => { s.width = 50; },
    grid: tickGrid(), border: { display: false },
    ticks: { padding: 4, font: { size: 14 }, autoSkip: false, callback: v => fmt(v) }
  };
}

function titleOpts(text) {
  return { display: true, text, fullSize: false, color: '#000', font: { size: 15.5, weight: 'normal' }, padding: { top: 0, bottom: 2.4 } };
}

// series: [{ color, values, dash, order }]
function kdePanel(row, grid, series) {
  const ctx = makeCanvas(1, ROW_TOP[row] - TITLE_H, 584, TITLE_H + PLOT_H + XAXIS_H);
  new Chart(ctx, {
    type: 'line',
    data: {
      datasets: series.map(s => ({
        data: grid.map((x, i) => ({ x, y: s.values[i] })),
        borderColor: s.color, borderWidth: 1.3, borderDash: s.dash,
        pointRadius: 0, cubicInterpolationMode: 'monotone', fill: false, order: s.order
      }))
    },
    options: {
      responsive: false, animation: false, events: [],
      layout: { padding: { left: 20, right: 20, top: 0, bottom: 0 } },
      plugins: { legend: { display: false }, tooltip: { enabled: false }, title: titleOpts(varNames[row]) },
      scales: {
        x: xAxis(kdeRanges[row], kdeTicks[row]),
        y: { type: 'linear', display: false, min: -5, max: 105 }
      }
    }
  });
}

function tracePanel(row, series) {
  const ctx = makeCanvas(584, ROW_TOP[row] - TITLE_H, 603, TITLE_H + PLOT_H + XAXIS_H);
  new Chart(ctx, {
    type: 'line',
    data: {
      datasets: series.map(s => {
        const step = N_DRAWS / s.values.length;
        return {
          data: s.values.map((y, i) => ({ x: i * step, y })),
          borderColor: alpha(s.color, 0.45), borderWidth: 1.1, borderDash: s.dash,
          pointRadius: 0, tension: 0, fill: false, order: s.order
        };
      })
    },
    options: {
      responsive: false, animation: false, events: [],
      layout: { padding: { left: 0, right: 10, top: 0, bottom: 0 } },
      plugins: { legend: { display: false }, tooltip: { enabled: false }, title: titleOpts(varNames[row]) },
      scales: {
        x: xAxis([0, 999], drawTicks),
        y: yAxis(traceRanges[row], traceTicks[row])
      }
    }
  });
}

function chains(color, arrs) {
  return arrs.map((values, i) => ({ color, values, dash: DASHES[i], order: 0 }));
}

// scalar variables: four chains with four line styles
kdePanel(0, a0Grid, chains(BLUE, [a0Kde1, a0Kde2, a0Kde3, a0Kde4]));
tracePanel(0, chains(BLUE, [a0Tr1, a0Tr2, a0Tr3, a0Tr4]));
kdePanel(1, b0Grid, chains(BLUE, [b0Kde1, b0Kde2, b0Kde3, b0Kde4]));
tracePanel(1, chains(BLUE, [b0Tr1, b0Tr2, b0Tr3, b0Tr4]));
kdePanel(2, sAGrid, chains(BLUE, [sAKde1, sAKde2, sAKde3, sAKde4]));
tracePanel(2, chains(BLUE, [sATr1, sATr2, sATr3, sATr4]));
kdePanel(3, sBGrid, chains(BLUE, [sBKde1, sBKde2, sBKde3, sBKde4]));
tracePanel(3, chains(BLUE, [sBTr1, sBTr2, sBTr3, sBTr4]));
kdePanel(4, sYGrid, chains(BLUE, [sYKde1, sYKde2, sYKde3, sYKde4]));
tracePanel(4, chains(BLUE, [sYTr1, sYTr2, sYTr3, sYTr4]));

// vector variables: list is drawn bottom-to-top (last entry on top)
function vec(list, dashB) {
  const out = [];
  list.forEach(([color, a, b], k) => {
    out.push({ color, values: a, dash: DASHES[0], order: list.length - k });
    out.push({ color, values: b, dash: dashB, order: list.length - k });
  });
  return out;
}

kdePanel(5, akGrid, vec([[BLUE, akKdeBlueA, akKdeBlueB], [ORANGE, akKdeOrangeA, akKdeOrangeB], [GREEN, akKdeGreenA, akKdeGreenB], [RED, akKdeRedA, akKdeRedB]], DASHES[1]));
tracePanel(5, vec([[BLUE, akTrBlueA, akTrBlueB], [ORANGE, akTrOrangeA, akTrOrangeB], [GREEN, akTrGreenA, akTrGreenB], [RED, akTrRedA, akTrRedB]], DASHES[2]));
kdePanel(6, bkGrid, vec([[BLUE, bkKdeBlueA, bkKdeBlueB], [ORANGE, bkKdeOrangeA, bkKdeOrangeB], [GREEN, bkKdeGreenA, bkKdeGreenB], [RED, bkKdeRedA, bkKdeRedB]], DASHES[1]));
tracePanel(6, vec([[BLUE, bkTrBlueA, bkTrBlueB], [GREEN, bkTrGreenA, bkTrGreenB], [RED, bkTrRedA, bkTrRedB], [ORANGE, bkTrOrangeA, bkTrOrangeB]], DASHES[2]));
</script>
</body>
</html>
